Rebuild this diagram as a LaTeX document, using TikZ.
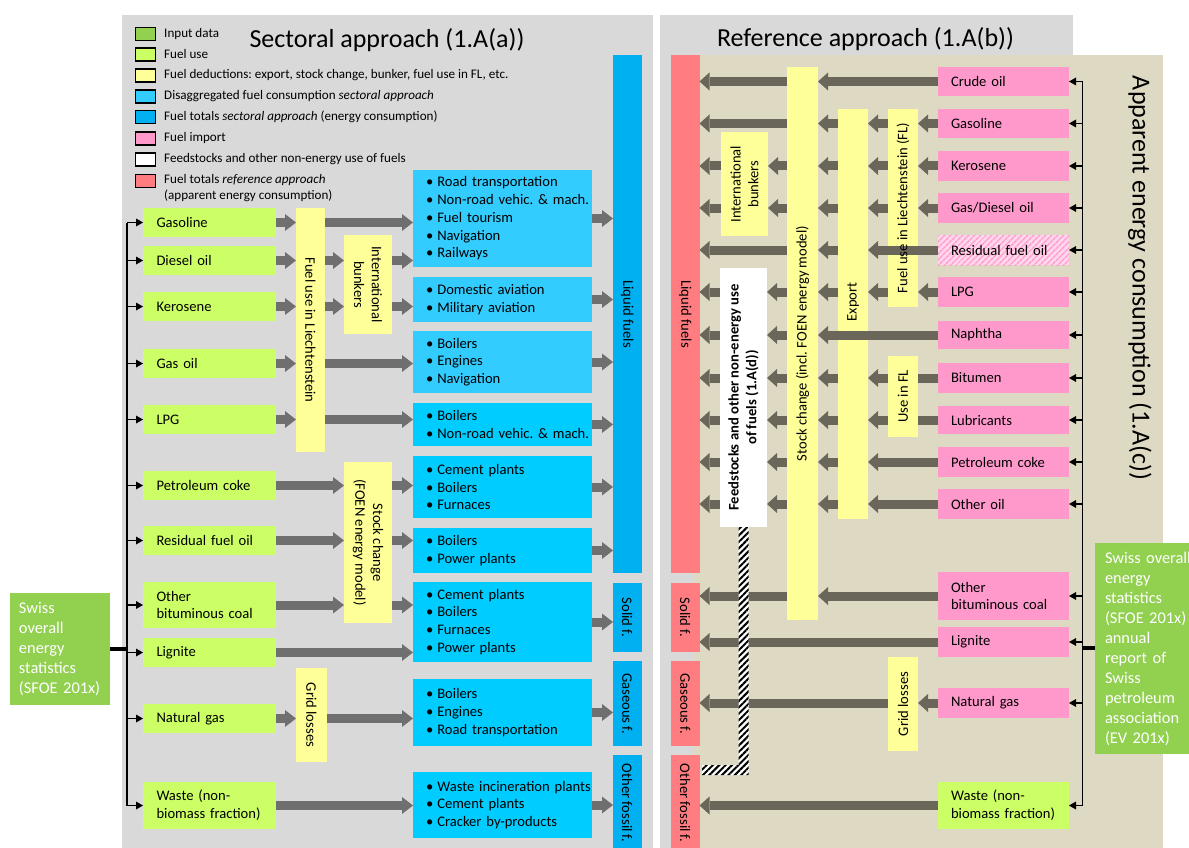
\documentclass[tikz,border=0pt]{standalone}
\usepackage{fontspec}
\setmainfont{Carlito}
\frenchspacing
\usetikzlibrary{arrows.meta,patterns.meta,calc}
\definecolor{bgG}{HTML}{D9D9D9}
\definecolor{tanC}{HTML}{DDD9C3}
\definecolor{inG}{HTML}{92D050}
\definecolor{fuG}{HTML}{CCFF66}
\definecolor{yelC}{HTML}{FFFF99}
\definecolor{disA}{HTML}{33CCFF}
\definecolor{disB}{HTML}{00CCFF}
\definecolor{totB}{HTML}{00B0F0}
\definecolor{pinkC}{HTML}{FF99CC}
\definecolor{redC}{HTML}{FF7C80}
\definecolor{arL}{HTML}{6F6F6F}
\definecolor{arR}{HTML}{6A675A}
\newcommand\fsN{\fontsize{14.6pt}{17.8pt}\selectfont}
\newcommand\fsL{\fontsize{13.1pt}{16pt}\selectfont}
\newcommand\fsT{\fontsize{26pt}{30pt}\selectfont}
\newcommand\fsS{\fontsize{16.4pt}{20pt}\selectfont}
\newcommand\itm[1]{\hspace*{13pt}\textbullet\hspace{4pt}#1}
\newcommand\bx[7]{\node[#2, minimum width={#5-#3}, minimum height={#6-#4}] (#1) at ({(#3+#5)/2},{(#4+#6)/2}) {#7};}
\begin{document}
\begin{tikzpicture}[x=1pt,y=-1pt,
  bxbase/.style={inner sep=0pt, outer sep=0pt, draw=none, font=\fsN},
  fuse/.style={bxbase, fill=fuG, text width=106pt, inner xsep=13pt, align=left},
  impt/.style={bxbase, fill=pinkC, text width=105pt, inner xsep=13pt, align=left},
  disbox/.style={bxbase, text width=179pt, align=left},
  ybox/.style={bxbase, fill=yelC},
  totL/.style={bxbase, fill=totB},
  totR/.style={bxbase, fill=redC},
  swiss/.style={bxbase, fill=inG, text=white, font=\fsS, align=left},
  rtL/.style={font=\fsN, rotate=-90, align=center, inner sep=0pt},
  rtR/.style={font=\fsN, rotate=90, align=center, inner sep=0pt},
  legsq/.style={draw=black, line width=1.3pt, minimum width=20pt, minimum height=13pt, inner sep=0pt},
  legtx/.style={font=\fsL, anchor=west, inner sep=0pt, align=left},
  arl/.style={draw=arL, line width=9pt, -{Triangle[width=17pt,length=11pt,line width=0pt]}},
  arr/.style={draw=arR, line width=9pt, -{Triangle[width=18pt,length=10pt,line width=0pt]}},
  shr/.style={draw=arR, line width=9pt},
  busln/.style={draw=black, line width=1.6pt},
  busar/.style={draw=black, line width=1.6pt, -{Triangle[width=8pt,length=7pt,line width=0pt]}},
  joinln/.style={draw=black, line width=3.8pt},
  hatch/.style={fill=white, postaction={pattern={Lines[angle=45,distance=4.5pt,line width=2pt]}, pattern color=black}}
]
\useasboundingbox (0,0) rectangle (1189,848);
\fill[white] (0,0) rectangle (1189,848);
% panels
\fill[bgG] (122,15) rectangle (652.5,848);
\fill[bgG] (659.5,15) rectangle (1073,848);
\fill[tanC] (693,55) rectangle (1162.5,848);

% titles
\node[font=\fsT, inner sep=0pt] (titleL) at (387,40) {Sectoral approach (1.A(a))};
\node[font=\fsT, inner sep=0pt] (titleR) at (865.5,39) {Reference approach (1.A(b))};
\node[font=\fsT, inner sep=0pt, rotate=-90] (titleC) at (1140,278) {Apparent energy consumption (1.A(c))};

% legend
\node[legsq, fill=inG] (lq1) at (145.5,34) {};
\node[legtx] (lt1) at (164,34) {Input data};
\node[legsq, fill=fuG] (lq2) at (145.5,54.5) {};
\node[legtx] (lt2) at (164,54.5) {Fuel use};
\node[legsq, fill=yelC] (lq3) at (145.5,75.5) {};
\node[legtx] (lt3) at (164,75.5) {Fuel deductions: export, stock change, bunker, fuel use in FL, etc.};
\node[legsq, fill=disA] (lq4) at (145.5,96.5) {};
\node[legtx] (lt4) at (164,96.5) {Disaggregated fuel consumption \textit{sectoral approach}};
\node[legsq, fill=totB] (lq5) at (145.5,117.3) {};
\node[legtx] (lt5) at (164,117.3) {Fuel totals \textit{sectoral approach} (energy consumption)};
\node[legsq, fill=pinkC] (lq6) at (145.5,138.5) {};
\node[legtx] (lt6) at (164,138.5) {Fuel import};
\node[legsq, fill=white] (lq7) at (145.5,159.5) {};
\node[legtx] (lt7) at (164,159.5) {Feedstocks and other non-energy use of fuels};
\node[legsq, fill=redC] (lq8) at (145.5,181) {};
\node[legtx] (lt8) at (164,188.5) {Fuel totals \textit{reference approach}\\(apparent energy consumption)};

% ---------- left panel boxes ----------
\bx{swL}{swiss, text width=82pt, inner xsep=9pt}{10}{593}{110}{705}{Swiss\\overall\\energy\\statistics\\(SFOE 201x)}
\bx{gasL}{fuse}{143}{208}{276}{237}{Gasoline}
\bx{dieL}{fuse}{143}{246}{276}{275}{Diesel oil}
\bx{kerL}{fuse}{143}{292}{276}{321}{Kerosene}
\bx{goL}{fuse}{143}{349}{276}{378}{Gas oil}
\bx{lpgL}{fuse}{143}{405}{276}{434}{LPG}
\bx{petL}{fuse}{143}{471}{276}{500}{Petroleum coke}
\bx{resL}{fuse}{143}{526}{276}{555}{Residual fuel oil}
\bx{obcL}{fuse}{143}{582}{276}{628}{Other\\bituminous coal}
\bx{ligL}{fuse}{143}{638}{276}{667}{Lignite}
\bx{ngL}{fuse}{143}{704}{276}{733}{Natural gas}
\bx{wasL}{fuse}{143}{782}{276}{829}{Waste (non-\\biomass fraction)}

\bx{fliL}{ybox}{296}{208}{325}{452}{}
\bx{bunkL}{ybox}{344}{235}{392}{334}{}
\bx{stockL}{ybox}{344}{462}{392}{623}{}
\bx{gridL}{ybox}{296}{668}{327}{762}{}

\bx{box1}{disbox, fill=disA}{413}{170}{592}{267}{\itm{Road transportation}\\\itm{Non-road vehic. \& mach.}\\\itm{Fuel tourism}\\\itm{Navigation}\\\itm{Railways}}
\bx{box2}{disbox, fill=disA}{413}{277}{592}{322}{\itm{Domestic aviation}\\\itm{Military aviation}}
\bx{box3}{disbox, fill=disA}{413}{331}{592}{393}{\itm{Boilers}\\\itm{Engines}\\\itm{Navigation}}
\bx{box4}{disbox, fill=disB}{413}{403}{592}{446}{\itm{Boilers}\\\itm{Non-road vehic. \& mach.}}
\bx{box5}{disbox, fill=disB}{413}{456}{592}{518}{\itm{Cement plants}\\\itm{Boilers}\\\itm{Furnaces}}
\bx{box6}{disbox, fill=disB}{413}{528}{592}{573}{\itm{Boilers}\\\itm{Power plants}}
\bx{box7}{disbox, fill=disB}{413}{582}{592}{662}{\itm{Cement plants}\\\itm{Boilers}\\\itm{Furnaces}\\\itm{Power plants}}
\bx{box8}{disbox, fill=disB}{413}{679}{592}{746}{\itm{Boilers}\\\itm{Engines}\\\itm{Road transportation}}
\bx{box9}{disbox, fill=disB}{413}{772}{592}{838}{\itm{Waste incineration plants}\\\itm{Cement plants}\\\itm{Cracker by-products}}

\bx{liqL}{totL}{613}{55}{641.5}{573}{}
\bx{solL}{totL}{613}{583}{641.5}{652}{}
\bx{gafL}{totL}{613}{661}{641.5}{746}{}
\bx{othL}{totL}{613}{755}{641.5}{860}{}

% ---------- right panel boxes ----------
\bx{liqR}{totR}{671}{55}{699.5}{573}{}
\bx{solR}{totR}{671}{583}{699.5}{652}{}
\bx{gafR}{totR}{671}{661}{699.5}{746}{}
\bx{othR}{totR}{671}{755}{699.5}{860}{}

\bx{crR}{impt}{938}{67}{1069}{96}{Crude oil}
\bx{gsR}{impt}{938}{109}{1069}{138}{Gasoline}
\bx{keR}{impt}{938}{151}{1069}{181}{Kerosene}
\bx{gdR}{impt}{938}{193}{1069}{223}{Gas/Diesel oil}
\bx{rfR}{impt, fill=pinkC!40, postaction={pattern={Lines[angle=45,distance=4pt,line width=1.6pt]}, pattern color=pinkC}}{938}{235}{1069}{265}{Residual fuel oil}
\bx{lpR}{impt}{938}{277}{1069}{307}{LPG}
\bx{naR}{impt}{938}{321}{1069}{349}{Naphtha}
\bx{biR}{impt}{938}{363}{1069}{393}{Bitumen}
\bx{luR}{impt}{938}{406}{1069}{434}{Lubricants}
\bx{pcR}{impt}{938}{447}{1069}{477}{Petroleum coke}
\bx{ooR}{impt}{938}{489}{1069}{519}{Other oil}
\bx{obR}{impt}{938}{572}{1069}{620}{Other\\bituminous coal}
\bx{liR}{impt}{938}{627}{1069}{657}{Lignite}
\bx{ngR}{impt}{938}{688}{1069}{718}{Natural gas}
\bx{waR}{impt, fill=fuG}{938}{782}{1069}{829}{Waste (non-\\biomass fraction)}

\bx{swR}{swiss, text width=90pt, inner xsep=10pt}{1095}{543}{1205}{754}{Swiss overall\\energy\\statistics\\(SFOE 201x)\\annual\\report of\\Swiss\\petroleum\\association\\(EV 201x)}

\bx{stockR}{ybox}{787}{67}{818}{620}{}
\bx{exportR}{ybox}{838}{109}{868}{519}{}
\bx{fliR}{ybox}{888}{109}{918}{307}{}
\bx{useflR}{ybox}{888}{356}{918}{437}{}
\bx{bunkR}{ybox}{721}{132}{768}{236}{}
\bx{feedR}{bxbase, fill=white}{720}{268}{767}{527}{}
\bx{gridR}{ybox}{888}{657}{918}{751}{}

% ---------- left buses ----------
\coordinate (busL) at (127,222);
\coordinate (jL) at (127,649);
\draw[busln] (busL |- gasL.west) -- (busL |- wasL.west);
\foreach \n in {gasL,dieL,kerL,goL,lpgL,petL,resL,obcL,ligL,ngL,wasL}
  \draw[busar] (busL |- \n.west) -- (\n.west);
\draw[joinln] (swL.east |- jL) -- (jL);

% ---------- left arrows ----------
\draw[arl] (gasL.east) -- (gasL.east -| fliL.west);
\draw[arl] (gasL.east -| fliL.east) -- (gasL.east -| box1.west);
\draw[arl] (dieL.east) -- (dieL.east -| fliL.west);
\draw[arl] (dieL.east -| fliL.east) -- (dieL.east -| bunkL.west);
\draw[arl] (dieL.east -| bunkL.east) -- (dieL.east -| box1.west);
\draw[arl] (kerL.east) -- (kerL.east -| fliL.west);
\draw[arl] (kerL.east -| fliL.east) -- (kerL.east -| bunkL.west);
\draw[arl] (kerL.east -| bunkL.east) -- (kerL.east -| box2.west);
\draw[arl] (goL.east) -- (goL.east -| fliL.west);
\draw[arl] (goL.east -| fliL.east) -- (goL.east -| box3.west);
\draw[arl] (lpgL.east) -- (lpgL.east -| fliL.west);
\draw[arl] (lpgL.east -| fliL.east) -- (lpgL.east -| box4.west);
\draw[arl] (petL.east) -- (petL.east -| stockL.west);
\draw[arl] (petL.east -| stockL.east) -- (petL.east -| box5.west);
\draw[arl] (resL.east) -- (resL.east -| stockL.west);
\draw[arl] (resL.east -| stockL.east) -- (resL.east -| box6.west);
\draw[arl] (obcL.east) -- (obcL.east -| stockL.west);
\draw[arl] (obcL.east -| stockL.east) -- (obcL.east -| box7.west);
\draw[arl] (ligL.east) -- (ligL.east -| box7.west);
\draw[arl] (ngL.east) -- (ngL.east -| gridL.west);
\draw[arl] (ngL.east -| gridL.east) -- (ngL.east -| box8.west);
\draw[arl] (wasL.east) -- (wasL.east -| box9.west);
\foreach \b in {box1,box2,box3,box4,box5,box6}
  \draw[arl] (\b.east) -- (\b.east -| liqL.west);
\draw[arl] (box7.east) -- (box7.east -| solL.west);
\draw[arl] (box8.east) -- (box8.east -| gafL.west);
\draw[arl] (box9.east) -- (box9.east -| othL.west);

% ---------- right buses ----------
\coordinate (busR) at (1082.5,82);
\coordinate (jR) at (1082.5,648);
\draw[busln] (busR |- crR.east) -- (busR |- waR.east);
\foreach \n in {crR,gsR,keR,gdR,rfR,lpR,naR,biR,luR,pcR,ooR,obR,liR,ngR,waR}
  \draw[busar] (busR |- \n.east) -- (\n.east);
\draw[joinln] (jR) -- (jR -| swR.west);

% ---------- right arrows ----------
\draw[arr] (crR.west) -- (crR.west -| stockR.east);
\draw[arr] (crR.west -| stockR.west) -- (crR.west -| liqR.east);
% gasoline
\draw[arr] (gsR.west) -- (gsR.west -| fliR.east);
\draw[arr] (gsR.west -| fliR.west) -- (gsR.west -| exportR.east);
\draw[arr] (gsR.west -| exportR.west) -- (gsR.west -| stockR.east);
\draw[arr] (gsR.west -| stockR.west) -- (gsR.west -| liqR.east);
% kerosene, gas/diesel
\foreach \n in {keR,gdR}{
  \draw[arr] (\n.west) -- (\n.west -| fliR.east);
  \draw[arr] (\n.west -| fliR.west) -- (\n.west -| exportR.east);
  \draw[arr] (\n.west -| exportR.west) -- (\n.west -| stockR.east);
  \draw[arr] (\n.west -| stockR.west) -- (\n.west -| bunkR.east);
  \draw[arr] (\n.west -| bunkR.west) -- (\n.west -| liqR.east);
}
% residual fuel oil
\draw[arr] (rfR.west) -- (rfR.west -| exportR.east);
\draw[arr] (rfR.west -| exportR.west) -- (rfR.west -| stockR.east);
\draw[arr] (rfR.west -| stockR.west) -- (rfR.west -| liqR.east);
% LPG
\draw[arr] (lpR.west) -- (lpR.west -| fliR.east);
\draw[arr] (lpR.west -| fliR.west) -- (lpR.west -| exportR.east);
\draw[arr] (lpR.west -| exportR.west) -- (lpR.west -| stockR.east);
\draw[arr] (lpR.west -| stockR.west) -- (lpR.west -| feedR.east);
\draw[arr] (lpR.west -| feedR.west) -- (lpR.west -| liqR.east);
% naphtha
\draw[arr] (naR.west) -- (naR.west -| stockR.east);
\draw[arr] (naR.west -| stockR.west) -- (naR.west -| feedR.east);
\draw[arr] (naR.west -| feedR.west) -- (naR.west -| liqR.east);
% bitumen, lubricants
\foreach \n in {biR,luR}{
  \draw[shr] (\n.west) -- (\n.west -| useflR.east);
  \draw[arr] (\n.west -| useflR.west) -- (\n.west -| exportR.east);
  \draw[arr] (\n.west -| exportR.west) -- (\n.west -| stockR.east);
  \draw[arr] (\n.west -| stockR.west) -- (\n.west -| feedR.east);
  \draw[arr] (\n.west -| feedR.west) -- (\n.west -| liqR.east);
}
% petroleum coke, other oil
\foreach \n in {pcR,ooR}{
  \draw[arr] (\n.west) -- (\n.west -| exportR.east);
  \draw[arr] (\n.west -| exportR.west) -- (\n.west -| stockR.east);
  \draw[arr] (\n.west -| stockR.west) -- (\n.west -| feedR.east);
  \draw[arr] (\n.west -| feedR.west) -- (\n.west -| liqR.east);
}
% coal, lignite, gas, waste
\draw[arr] (obR.west) -- (obR.west -| stockR.east);
\draw[arr] (obR.west -| stockR.west) -- (obR.west -| solR.east);
\draw[arr] (liR.west) -- (liR.west -| solR.east);
\draw[arr] (ngR.west) -- (ngR.west -| gridR.east);
\draw[arr] (ngR.west -| gridR.west) -- (ngR.west -| gafR.east);
\draw[arr] (waR.west) -- (waR.west -| othR.east);

% hatched connector feedstocks -> other fossil
\path[hatch] (738.5,527) -- (748.5,527) -- (748.5,775) -- (702,775) -- (702,765) -- (738.5,765) -- cycle;

% ---------- rotated texts ----------
\node[rtL] (fliLt) at (fliL) {Fuel use in Liechtenstein};
\node[rtL] (bunkLt) at (bunkL) {International\\bunkers};
\node[rtL] (stockLt) at (stockL) {Stock change\\(FOEN energy model)};
\node[rtL] (gridLt) at (gridL) {Grid losses};
\node[rtL] (liqLt) at (liqL) {Liquid fuels};
\node[rtL] (solLt) at (solL) {Solid f.};
\node[rtL] (gafLt) at (gafL) {Gaseous f.};
\node[rtL] (othLt) at (627.2,803) {Other fossil f.};
\node[rtL] (liqRt) at (liqR) {Liquid fuels};
\node[rtL] (solRt) at (solR) {Solid f.};
\node[rtL] (gafRt) at (gafR) {Gaseous f.};
\node[rtL] (othRt) at (685.2,803) {Other fossil f.};
\node[rtR] (stockRt) at (stockR) {Stock change (incl. FOEN energy model)};
\node[rtR] (exportRt) at (853,302) {Export};
\node[rtR] (fliRt) at (fliR) {Fuel use in Liechtenstein (FL)};
\node[rtR] (useflRt) at (useflR) {Use in FL};
\node[rtR] (bunkRt) at (bunkR) {International\\bunkers};
\node[rtR, font=\fsN\bfseries] (feedRt) at (feedR) {Feedstocks and other non-energy use\\of fuels (1.A(d))};
\node[rtR] (gridRt) at (gridR) {Grid losses};
\end{tikzpicture}
\end{document}
